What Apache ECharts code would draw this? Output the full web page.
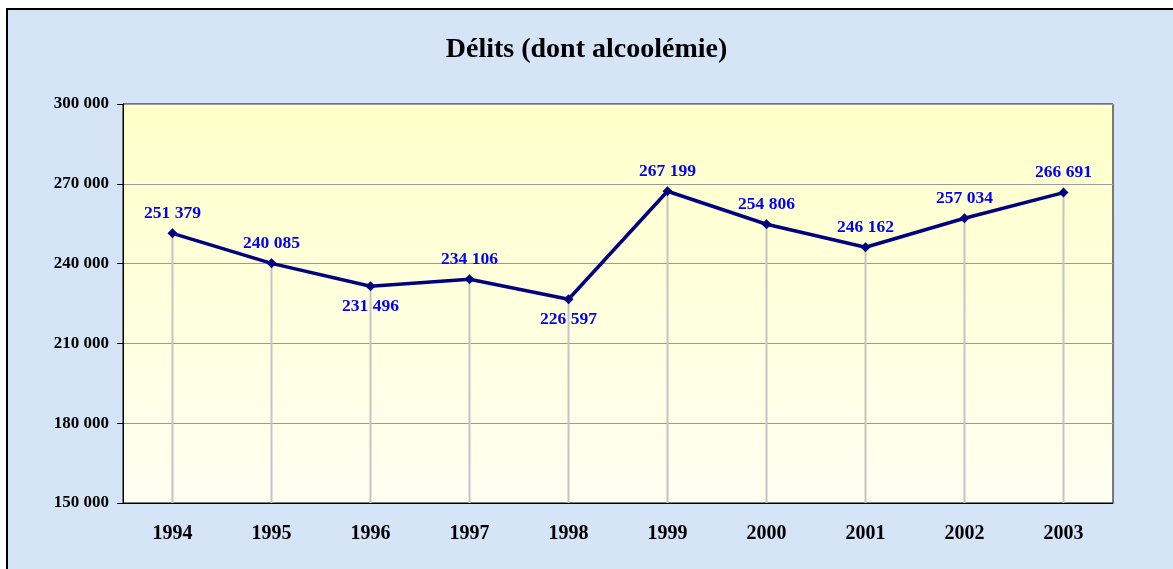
<!DOCTYPE html>
<html>
	<head>
		<meta charset="utf-8" />
		<title>Délits (dont alcoolémie)</title>
		<script src="https://cdn.jsdelivr.net/npm/echarts@6/dist/echarts.min.js"></script>
		<style>
			* {
				margin: 0;
				padding: 0;
			}
			body {
				background: #fff;
			}
		</style>
	</head>
	<body>
		<div id="main" style="width: 1173px; height: 569px"></div>
		<script>
			// données
			var annees = ['1994', '1995', '1996', '1997', '1998', '1999', '2000', '2001', '2002', '2003'];
			var delits = [251379, 240085, 231496, 234106, 226597, 267199, 254806, 246162, 257034, 266691];
			var yTicks = [150000, 180000, 210000, 240000, 270000, 300000];

			// étiquettes placées sous le point
			var sousLePoint = ['1996', '1998'];

			function espaceMilliers(v) {
				return String(v).replace(/\B(?=(\d{3})+(?!\d))/g, ' ');
			}

			var myChart = echarts.init(document.getElementById('main'));
			var serif = '"Liberation Serif", "DejaVu Serif", serif';

			var option = {
				backgroundColor: '#fff',
				animation: false,
				graphic: [
					{
						type: 'rect',
						z: -100,
						shape: {x: 7, y: 9, width: 1200, height: 600},
						style: {fill: '#d5e5f7', stroke: '#000', lineWidth: 2},
					},
				],
				title: {
					text: 'Délits (dont alcoolémie)',
					left: 'center',
					top: 31,
					textStyle: {fontFamily: serif, fontSize: 28, fontWeight: 'bold', color: '#000'},
				},
				grid: {
					left: 123,
					right: 60,
					top: 104,
					bottom: 66,
					show: true,
					borderColor: '#000',
					borderWidth: 1,
					backgroundColor: {
						type: 'linear',
						x: 0,
						y: 0,
						x2: 0,
						y2: 1,
						colorStops: [
							{offset: 0, color: '#ffffc8'},
							{offset: 1, color: '#fefff2'},
						],
					},
				},
				xAxis: {
					type: 'category',
					data: annees,
					boundaryGap: true,
					axisLine: {lineStyle: {color: '#000', width: 1}},
					axisTick: {show: false},
					splitLine: {show: false},
					axisLabel: {
						margin: 21,
						fontFamily: serif,
						fontSize: 20,
						fontWeight: 'bold',
						color: '#000',
					},
				},
				yAxis: {
					type: 'value',
					min: yTicks[0],
					max: yTicks[yTicks.length - 1],
					interval: yTicks[1] - yTicks[0],
					axisLine: {show: true, lineStyle: {color: '#000', width: 1}},
					axisTick: {show: true, length: 6, lineStyle: {color: '#000'}},
					splitLine: {lineStyle: {color: '#9a9a9a', width: 1}},
					axisLabel: {
						margin: 14,
						fontFamily: serif,
						fontSize: 17,
						fontWeight: 'bold',
						color: '#000',
						formatter: espaceMilliers,
					},
				},
				series: [
					{
						// lignes de projection
						type: 'bar',
						data: delits,
						barWidth: 2,
						z: 1,
						clip: true,
						silent: true,
						itemStyle: {color: '#c4c4c4'},
					},
					{
						type: 'line',
						z: 3,
						data: delits.map(function (v, i) {
							return {
								value: v,
								label: {position: sousLePoint.indexOf(annees[i]) >= 0 ? 'bottom' : 'top'},
							};
						}),
						symbol: 'diamond',
						symbolSize: 10,
						lineStyle: {color: '#000080', width: 3.5},
						itemStyle: {color: '#000080'},
						label: {
							show: true,
							distance: 6,
							fontFamily: serif,
							fontSize: 17.5,
							fontWeight: 'bold',
							color: '#0000ff',
							formatter: function (p) {
								return espaceMilliers(p.value);
							},
						},
					},
				],
			};
			option && myChart.setOption(option);
		</script>
	</body>
</html>
